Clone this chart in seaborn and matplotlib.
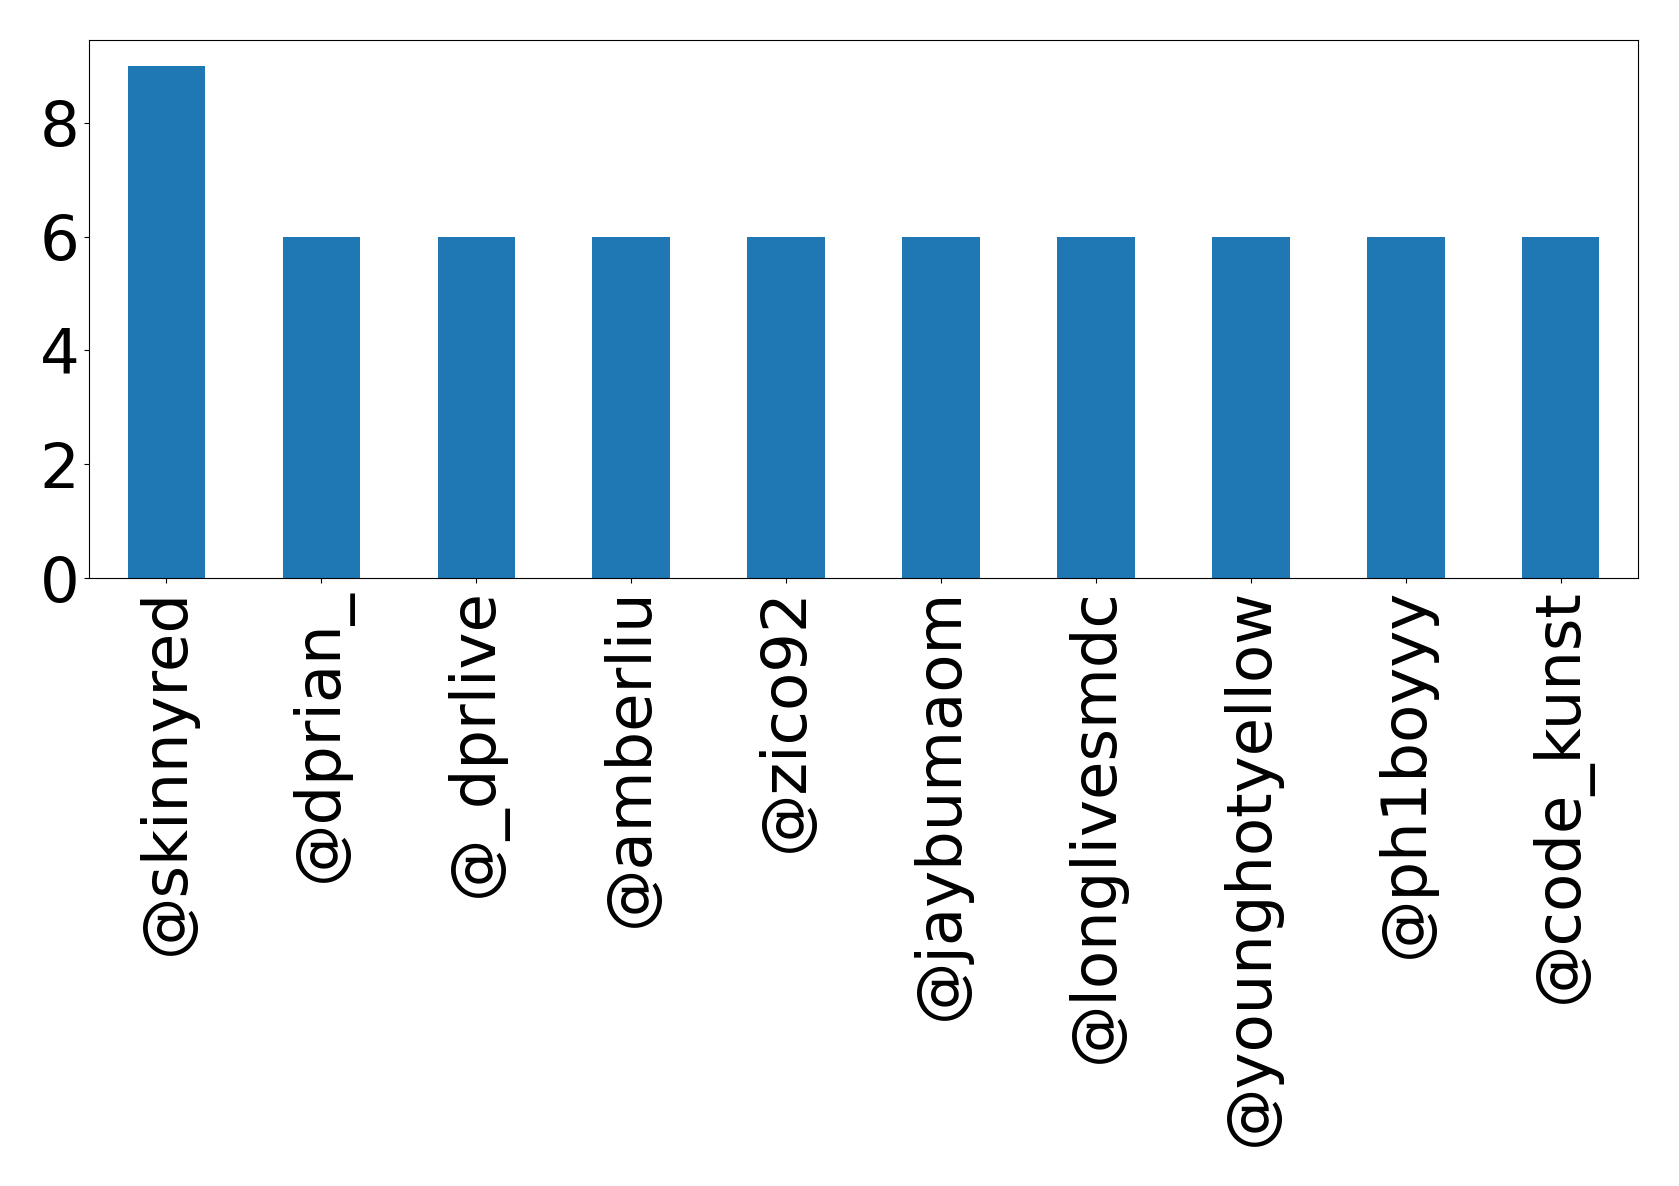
import matplotlib
matplotlib.use("Agg")
import matplotlib.pyplot as plt
import seaborn as sns
import pandas as pd

users = ["@skinnyred", "@dprian_", "@_dprlive", "@amberliu", "@zico92",
         "@jaybumaom", "@longlivesmdc", "@younghotyellow", "@ph1boyyy", "@code_kunst"]
counts = [9, 6, 6, 6, 6, 6, 6, 6, 6, 6]

df = pd.DataFrame({"user": users, "count": counts})

plt.rcParams['font.family'] = ['DejaVu Sans']
fig = plt.figure(figsize=(16.79, 11.86), dpi=100)
ax = fig.add_axes([0.053, 0.5126, 0.9227, 0.4534])
sns.barplot(data=df, x="user", y="count", color="#1f77b4", saturation=1,
            width=0.5, ax=ax)
ax.set_xlim(-0.5, len(users) - 0.5)
ax.set_ylim(0, 9.45)
ax.set_xlabel("")
ax.set_ylabel("")
ax.tick_params(axis="both", labelsize=45)
ax.tick_params(axis="x", rotation=90)
ax.set_yticks([0, 2, 4, 6, 8])
fig.savefig("out.png", dpi=100)
